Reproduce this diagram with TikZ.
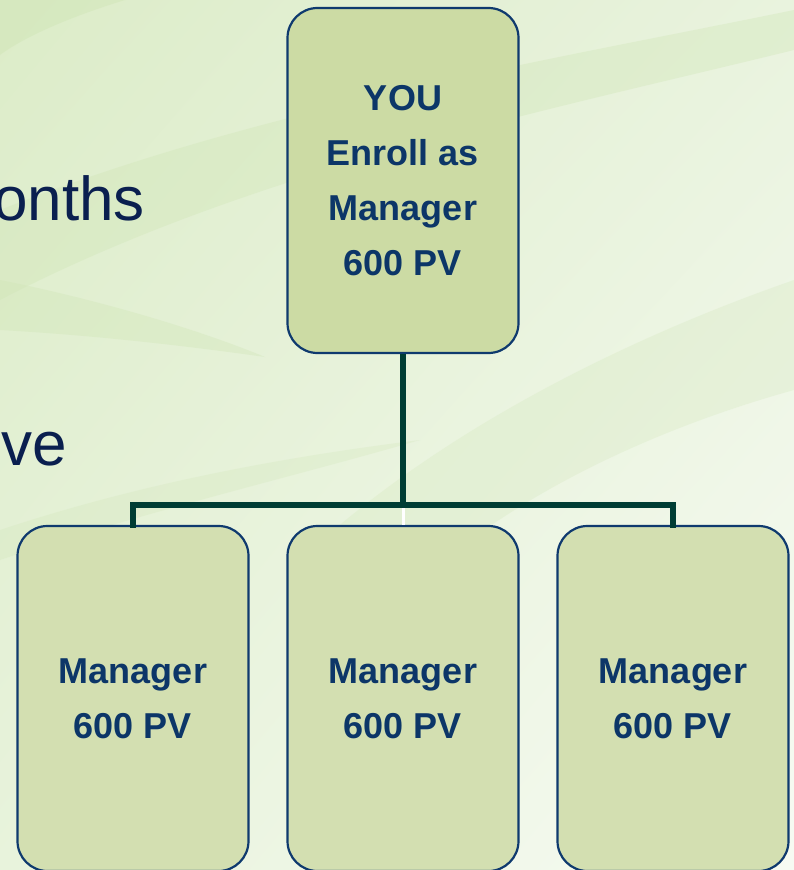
\documentclass[tikz,border=0pt]{standalone}
\usepackage{fontspec}
\setmainfont{Liberation Sans}
\usetikzlibrary{shadings}
\definecolor{bgA}{HTML}{DCECC8}
\definecolor{bgB}{HTML}{E8F3DC}
\definecolor{bgC}{HTML}{E9F3DE}
\definecolor{bgD}{HTML}{F7FBF3}
\definecolor{band}{HTML}{CFE5B5}
\definecolor{boxtop}{HTML}{CCDBA4}
\definecolor{boxbot}{HTML}{D3DFB1}
\definecolor{boxline}{HTML}{0F3A6E}
\definecolor{boxtext}{HTML}{0C3668}
\definecolor{conncol}{HTML}{003D34}
\definecolor{sidetext}{HTML}{0A1F4F}
\tikzset{
  orgbox/.style={draw=boxline, line width=2.2pt, rounded corners=30pt,
    minimum width=231pt, inner sep=0pt, align=center,
    font=\fontsize{36}{55}\selectfont\bfseries, text=boxtext},
  conn/.style={draw=conncol, line width=5.5pt, line cap=rect, line join=miter},
  sidelabel/.style={font=\fontsize{62}{70}\selectfont, text=sidetext, inner sep=0pt, anchor=base east}
}
\begin{document}
\begin{tikzpicture}[x=1pt,y=-1pt]
\useasboundingbox (0,0) rectangle (794,870);
\clip (0,0) rectangle (794,870);
% background
\shade[upper left=bgA, upper right=bgC, lower left=bgB, lower right=bgD] (0,0) rectangle (794,870);
\fill[band, opacity=0.45] (0,0) -- (125,0) .. controls (60,20) and (20,40) .. (0,55) -- cycle;
\fill[band, opacity=0.35] (0,210) .. controls (250,110) and (550,60) .. (794,10)
   -- (794,50) .. controls (550,110) and (250,170) .. (0,300) -- cycle;
\fill[band, opacity=0.35] (0,280) .. controls (100,300) and (200,330) .. (265,357)
   .. controls (180,345) and (90,335) .. (0,330) -- cycle;
\fill[band, opacity=0.25] (300,560) .. controls (450,420) and (650,330) .. (794,280)
   -- (794,390) .. controls (650,430) and (500,500) .. (400,600) -- cycle;
\fill[band, opacity=0.25] (0,530) .. controls (150,480) and (300,455) .. (420,440)
   .. controls (300,475) and (150,510) .. (0,560) -- cycle;
% side text fragments
\node[sidelabel] (t1) at (145,220) {onths};
\node[sidelabel] (t2) at (67,465) {ve};
% boxes
\node[orgbox, fill=boxtop, minimum height=345pt] (you) at (403,180.5)
  {YOU\\Enroll as\\Manager\\600 PV};
\node[orgbox, fill=boxbot, minimum height=345pt] (m1) at (133,698.5) {Manager\\600 PV};
\node[orgbox, fill=boxbot, minimum height=345pt] (m2) at (403,698.5) {Manager\\600 PV};
\node[orgbox, fill=boxbot, minimum height=345pt] (m3) at (673,698.5) {Manager\\600 PV};
% connectors
\coordinate (j) at (403,505);
\draw[conn, line cap=butt] (you.south) -- (j);
\draw[conn] (m1.north) |- (j) -| (m3.north);
\draw[white, line width=3pt] ([yshift=-3pt]j) -- (m2.north);
\end{tikzpicture}
\end{document}
